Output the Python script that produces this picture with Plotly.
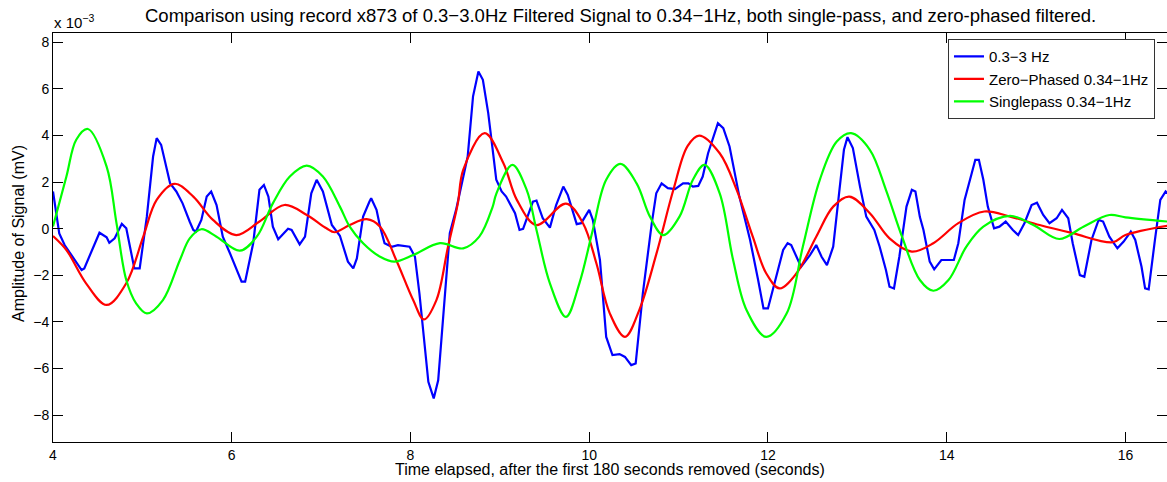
import plotly.graph_objects as go

# ---- data (amplitude in units of 1e-3 mV) ----
blue_t = [4.00, 4.07, 4.13, 4.22, 4.32, 4.35, 4.45, 4.52, 4.60, 4.63, 4.69, 4.77, 4.82, 4.91, 4.97,
          5.05, 5.12, 5.16, 5.21, 5.31, 5.38, 5.45, 5.53, 5.57, 5.60, 5.66, 5.72, 5.77, 5.83, 5.90,
          5.98, 6.11, 6.15, 6.24, 6.31, 6.36, 6.41, 6.46, 6.52, 6.59, 6.63, 6.67, 6.76, 6.82, 6.89,
          6.95, 7.02, 7.12, 7.21, 7.30, 7.36, 7.40, 7.47, 7.54, 7.56, 7.62, 7.66, 7.71, 7.79, 7.86,
          7.99, 8.05, 8.10, 8.20, 8.26, 8.31, 8.36, 8.44, 8.51, 8.57, 8.64, 8.70, 8.76, 8.81, 8.87,
          8.92, 8.96, 9.02, 9.07, 9.17, 9.22, 9.26, 9.37, 9.41, 9.48, 9.56, 9.63, 9.71, 9.76, 9.86,
          9.91, 10.00, 10.04, 10.12, 10.19, 10.26, 10.34, 10.40, 10.47, 10.52, 10.60, 10.70, 10.75,
          10.81, 10.88, 10.96, 11.05, 11.11, 11.16, 11.22, 11.27, 11.33, 11.44, 11.50, 11.57, 11.68,
          11.80, 11.89, 11.95, 12.00, 12.09, 12.17, 12.22, 12.26, 12.37, 12.47, 12.54, 12.60, 12.66,
          12.73, 12.80, 12.85, 12.89, 12.95, 13.03, 13.10, 13.19, 13.25, 13.32, 13.36, 13.41, 13.47,
          13.55, 13.61, 13.65, 13.70, 13.74, 13.81, 13.86, 13.94, 14.01, 14.08, 14.13, 14.20, 14.28,
          14.32, 14.36, 14.41, 14.46, 14.53, 14.59, 14.66, 14.74, 14.80, 14.87, 14.95, 15.01, 15.08,
          15.15, 15.23, 15.29, 15.36, 15.41, 15.49, 15.54, 15.62, 15.70, 15.75, 15.82, 15.91, 15.98,
          16.06, 16.11, 16.18, 16.22, 16.26, 16.33, 16.39, 16.45, 16.48]
blue_v = [1.60, -0.20, -0.70, -1.20, -1.77, -1.70, -0.84, -0.17, -0.37, -0.60, -0.41, 0.21, 0.02, -1.70, -1.70,
          0.52, 3.10, 3.89, 3.60, 1.95, 1.60, 1.09, 0.30, -0.05, -0.12, 0.38, 1.38, 1.60, 1.02, -0.34,
          -1.05, -2.27, -2.27, -0.62, 1.67, 1.88, 1.38, 0.09, -0.45, -0.19, 0.00, -0.05, -0.67, -0.34, 1.52,
          2.10, 1.60, 0.16, -0.30, -1.41, -1.70, -1.27, 0.52, 1.16, 1.31, 0.81, 0.09, -0.62, -0.77, -0.70,
          -0.77, -1.20, -2.77, -6.57, -7.28, -6.50, -4.20, -0.19, 0.81, 1.81, 3.10, 5.68, 6.75, 6.39, 4.96,
          3.39, 2.10, 1.60, 1.38, 0.67, -0.05, 0.00, 1.16, 1.21, 0.45, 0.05, 1.02, 1.81, 1.45, 0.20,
          0.24, 0.81, 0.38, -1.34, -4.64, -5.42, -5.38, -5.50, -5.85, -5.78, -2.77, 0.24, 1.52,
          1.95, 1.74, 1.70, 1.95, 1.95, 1.81, 1.84, 2.24, 3.24, 4.53, 4.32, 3.53, 1.38,
          -0.48, -2.20, -3.42, -3.42, -2.06, -0.91, -0.62, -0.70, -1.63, -1.13, -0.70, -1.20, -1.56,
          -0.77, 1.67, 3.39, 3.93, 3.46, 1.81, 0.52, -0.05, -0.77, -1.77, -2.49, -2.56, -1.20,
          0.95, 1.67, 1.60, 0.50, -0.05, -1.41, -1.74, -1.34, -1.34, -1.34, -0.62, 1.24, 2.38,
          2.96, 2.96, 2.10, 0.95, 0.02, 0.09, 0.31, -0.05, -0.27, 0.24, 1.02, 1.12, 0.59,
          0.24, 0.45, 0.81, 0.45, -0.62, -1.99, -2.06, -0.48, 0.38, 0.31, -0.34, -0.84, -0.55,
          -0.12, -0.48, -1.63, -2.56, -2.60, -0.48, 1.24, 1.60, 1.50]

red_t = [4.00, 4.15, 4.37, 4.60, 4.82, 5.01, 5.16, 5.36, 5.57, 5.79, 6.05, 6.31, 6.59, 6.84, 7.06,
         7.15, 7.32, 7.51, 7.66, 7.84, 8.03, 8.15, 8.29, 8.42, 8.53, 8.59, 8.83, 9.04, 9.19, 9.41,
         9.74, 9.93, 10.08, 10.23, 10.40, 10.56, 10.75, 10.94, 11.10, 11.23, 11.46, 11.65, 11.83,
         11.98, 12.13, 12.32, 12.54, 12.73, 12.91, 13.14, 13.36, 13.61, 13.85, 14.13, 14.42, 14.71,
         15.04, 15.41, 15.86, 16.00, 16.47]
red_v = [-0.31, -0.91, -2.34, -3.27, -2.34, -0.34, 1.24, 1.93, 1.38, 0.38, -0.27, 0.31, 1.02, 0.59, 0.02,
         -0.15, 0.16, 0.41, 0.09, -1.34, -3.06, -3.89, -3.06, -0.77, 1.09, 2.53, 4.10, 2.81, 1.24, 0.16,
         1.08, 0.24, -1.48, -3.63, -4.64, -3.49, -1.10, 1.65, 3.55, 4.00, 3.24, 1.67, -0.34,
         -1.91, -2.56, -1.91, -0.34, 0.95, 1.38, 0.67, -0.41, -0.98, -0.62, 0.24, 0.74, 0.52,
         0.16, -0.19, -0.58, -0.27, 0.13]

green_t = [4.00, 4.15, 4.26, 4.39, 4.60, 4.71, 4.82, 4.93, 5.05, 5.23, 5.42, 5.53, 5.66, 5.83, 6.09,
           6.28, 6.46, 6.65, 6.84, 7.02, 7.21, 7.32, 7.47, 7.66, 7.82, 8.03, 8.33, 8.59, 8.77, 8.92,
           8.96, 9.14, 9.30, 9.41, 9.56, 9.74, 9.89, 10.04, 10.19, 10.35, 10.53, 10.68, 10.83, 11.01,
           11.16, 11.29, 11.46, 11.61, 11.76, 11.98, 12.21, 12.39, 12.58, 12.77, 12.93, 13.14, 13.32,
           13.50, 13.70, 13.85, 14.02, 14.22, 14.41, 14.71, 14.97, 15.26, 15.53, 15.82, 16.00, 16.47]
green_v = [0.10, 2.24, 3.82, 4.28, 2.67, 0.25, -2.20, -3.20, -3.63, -3.06, -1.34, -0.41, -0.02, -0.34, -0.94,
           -0.34, 1.09, 2.24, 2.71, 2.24, 0.95, 0.09, -0.62, -1.20, -1.41, -1.13, -0.62, -0.84, -0.34, 0.95,
           1.50, 2.74, 1.67, -0.05, -2.34, -3.78, -2.34, -0.05, 2.10, 2.78, 1.95, 0.52, -0.27, 0.52,
           2.10, 2.74, 1.52, -1.34, -3.49, -4.64, -3.63, -0.77, 2.10, 3.74, 4.10, 3.39, 1.67,
           -0.34, -2.20, -2.66, -2.20, -0.77, 0.09, 0.55, 0.16, -0.44, 0.09, 0.59, 0.49, 0.31]

series_names = ["0.3\u22123 Hz", "Zero\u2212Phased 0.34\u22121Hz", "Singlepass 0.34\u22121Hz"]
series_colors = ["#0000FF", "#FF0000", "#00FF00"]

y_ticks = [-8, -6, -4, -2, 0, 2, 4, 6, 8]
x_ticks = [4, 6, 8, 10, 12, 14, 16]
SCALE = 1e-3

FONT = "Liberation Sans, Arial, Helvetica, sans-serif"

fig = go.Figure()
fig.add_trace(go.Scatter(x=blue_t, y=[v * SCALE for v in blue_v], mode="lines", name=series_names[0],
                         line=dict(color=series_colors[0], width=2.2)))
fig.add_trace(go.Scatter(x=red_t, y=[v * SCALE for v in red_v], mode="lines", name=series_names[1],
                         line=dict(color=series_colors[1], width=2.2, shape="spline", smoothing=1.0)))
fig.add_trace(go.Scatter(x=green_t, y=[v * SCALE for v in green_v], mode="lines", name=series_names[2],
                         line=dict(color=series_colors[2], width=2.2, shape="spline", smoothing=1.0)))
# invisible helper trace so the right-hand tick axis is drawn
fig.add_trace(go.Scatter(x=[4], y=[0], yaxis="y2", mode="markers", marker=dict(opacity=0),
                         showlegend=False, hoverinfo="skip"))

yr = [-9.15 * SCALE, 8.4 * SCALE]
fig.update_layout(
    width=1167, height=482,
    margin=dict(l=53, r=0, t=33, b=40),
    paper_bgcolor="white", plot_bgcolor="white",
    font=dict(family=FONT, size=14, color="black"),
    showlegend=True,
    legend=dict(x=0.8034, y=0.985, xanchor="left", yanchor="top",
                bgcolor="white", bordercolor="#333333", borderwidth=1,
                font=dict(size=15, family=FONT, color="black"),
                itemwidth=30, tracegroupgap=0),
    xaxis=dict(range=[4, 16.465], tickvals=x_ticks, ticktext=[str(t) for t in x_ticks],
               ticks="inside", ticklen=10, tickcolor="black", tickwidth=1,
               showline=True, linecolor="black", linewidth=1, mirror="ticks",
               showgrid=False, zeroline=False, tickfont=dict(size=14)),
    yaxis=dict(range=yr, tickvals=[t * SCALE for t in y_ticks],
               ticktext=[("\u2212" + str(-t)) if t < 0 else str(t) for t in y_ticks],
               ticks="inside", ticklen=10, tickcolor="black", tickwidth=1,
               showline=True, linecolor="black", linewidth=1, mirror=False,
               showgrid=False, zeroline=False, tickfont=dict(size=14)),
    yaxis2=dict(range=yr, overlaying="y", side="right", anchor="x",
                tickvals=[t * SCALE for t in y_ticks], showticklabels=False,
                ticks="inside", ticklen=10, tickcolor="black", tickwidth=1,
                showline=False, showgrid=False, zeroline=False),
)

fig.add_annotation(text="Comparison using record x873 of 0.3\u22123.0Hz Filtered Signal to 0.34\u22121Hz, both single-pass, and zero-phased filtered.",
                   xref="paper", yref="paper", x=(620 - 53) / 1114, y=1 + (33 - 16) / 409,
                   xanchor="center", yanchor="middle", showarrow=False,
                   font=dict(size=18.5, family=FONT, color="black"))
fig.add_annotation(text="x 10<sup>\u22123</sup>", xref="paper", yref="paper",
                   x=-1 / 1114, y=1 + (33 - 22) / 409, xanchor="left", yanchor="middle",
                   showarrow=False, font=dict(size=15, family=FONT, color="black"))
fig.add_annotation(text="Time elapsed, after the first 180 seconds removed (seconds)",
                   xref="paper", yref="paper", x=(610 - 53) / 1114, y=-(469 - 442) / 409,
                   xanchor="center", yanchor="middle", showarrow=False,
                   font=dict(size=16, family=FONT, color="black"))
fig.add_annotation(text="Amplitude of Signal (mV)", textangle=-90,
                   xref="paper", yref="paper", x=-(53 - 18) / 1114, y=(442 - 234) / 409,
                   xanchor="center", yanchor="middle", showarrow=False,
                   font=dict(size=16, family=FONT, color="black"))

fig.write_html("out.html")
